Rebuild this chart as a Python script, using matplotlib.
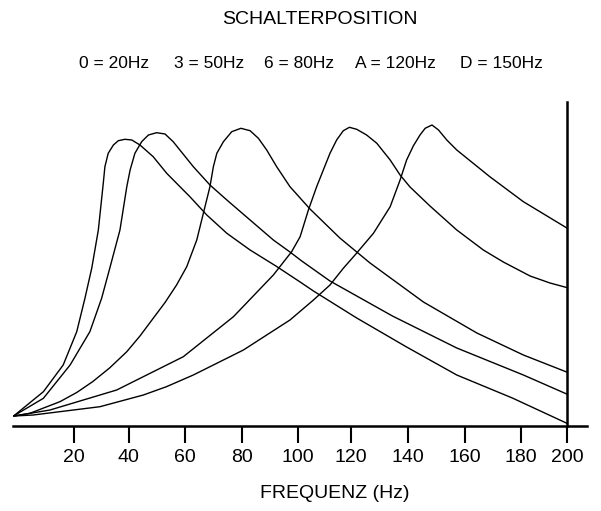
import numpy as np
import matplotlib
matplotlib.use("Agg")
import matplotlib.pyplot as plt

# Schalterpositionen und Eckfrequenzen
schalter = ["0", "3", "6", "A", "D"]
eckfrequenz = [20, 50, 80, 120, 150]

# Kurven (Frequenz in Hz, Pegel relativ, ohne Einheit)
kurve_0_f = [0, 9.8, 16.4, 21.0, 24.0, 26.5, 28.9, 30.7, 31.3, 32.5, 34.4, 36.2, 38.6, 41.1,
             44.0, 48.7, 53.5, 61.7, 67.6, 74.6, 82.8, 92.4, 100.9, 105.9, 122.0, 139.6,
             157.2, 176.9, 200]
kurve_0_p = [10, 34, 60.7, 94, 127.4, 157.7, 195.7, 242.4, 259, 272.4, 280.7, 285, 286.4, 285.7,
             280.7, 269, 252.4, 229, 210.7, 192.4, 175.7, 159.2, 143.7, 134.7, 107.7, 78.7,
             50.7, 27.7, 2.2]

kurve_3_f = [0, 9.8, 18.7, 25.8, 30.1, 33.1, 36.8, 39.3, 40.5, 42.2, 44.6, 47.0, 49.9, 52.9,
             55.8, 62.9, 68.7, 74.6, 82.8, 91.2, 97.2, 101.5, 112.1, 134.6, 157.2, 181.0, 200]
kurve_3_p = [10, 27.4, 60.7, 94, 127.4, 157.7, 195.7, 239, 255.7, 272.4, 284, 290.7, 293, 291.7,
             284, 259, 240.7, 225.7, 205.7, 185.7, 173.7, 164.7, 144.7, 109.7, 77.7, 50.7, 31.4]

kurve_6_f = [0, 5.3, 15.3, 21.0, 26.8, 33.0, 39.3, 44.0, 48.7, 52.9, 57.0, 60.6, 64.1, 66.4,
             68.7, 69.9, 71.1, 73.4, 76.3, 79.5, 82.8, 85.8, 88.8, 92.4, 97.2, 104.6, 115.8,
             126.7, 145.5, 164.3, 181.0, 200]
kurve_6_p = [9.7, 12.4, 24, 33.2, 44, 57.7, 74, 89.7, 107.4, 123.2, 140.7, 159, 185.7, 212.4,
             239, 259, 272.4, 284, 294, 297.4, 295, 287.4, 275.7, 259, 239, 216.7, 187.7,
             162.7, 123.7, 92.7, 70.7, 53.4]

kurve_a_f = [0, 12, 35.6, 59.4, 76.9, 91.2, 97.8, 100.9, 104.0, 107.1, 112.1, 114.6, 117.1,
             119.4, 122.0, 125.5, 129.1, 133.8, 137.3, 140.8, 147.8, 157.2, 166.6, 173.7,
             183.9, 192.5, 200]
kurve_a_p = [9.7, 15.7, 35.7, 69, 109, 150.7, 174, 189, 215.7, 239, 272.4, 285.7, 295,
             298.4, 296.4, 290.7, 282.4, 265.7, 250.7, 238.7, 219.7, 195.7, 175.7, 163.7,
             149.7, 142.7, 138]

kurve_d_f = [0, 6.4, 29.5, 45.2, 53.4, 62.9, 80.4, 97.2, 105.9, 112.1, 117.1, 121.4, 127.9,
             133.8, 137.3, 139.6, 142.0, 144.3, 146.1, 148.5, 150.8, 153.7, 157.2, 168.9, 181.0, 200]
kurve_d_p = [9.7, 10.7, 19, 30.7, 39, 50.7, 75.7, 105.7, 125.7, 140.7, 157.4, 170.7, 192.4,
             219, 245.7, 265.7, 280, 290.7, 297.4, 300.7, 295.7, 285.7, 275.7, 249, 224, 197.4]

x_ticks = [20, 40, 60, 80, 100, 120, 140, 160, 180, 200]

# die Frequenzachse im Original ist nicht ganz gleichmaessig geteilt
skala_hz = [-20, 0, 20, 40, 60, 80, 100, 120, 140, 160, 180, 200, 240]
skala_pos = [-46, 14, 74, 128.7, 185, 242.3, 297.7, 351, 407.7, 464.7, 521, 567.3, 660]


def vorwaerts(x):
    return np.interp(x, skala_hz, skala_pos)


def rueckwaerts(p):
    return np.interp(p, skala_pos, skala_hz)


def zeichnen():
    fig = plt.figure(figsize=(6.01, 5.11), dpi=100)
    ax = fig.add_axes([12.7 / 601, 85.3 / 511, 574.6 / 601, 324 / 511])

    kurven = [(kurve_0_f, kurve_0_p), (kurve_3_f, kurve_3_p), (kurve_6_f, kurve_6_p),
              (kurve_a_f, kurve_a_p), (kurve_d_f, kurve_d_p)]
    for f, p in kurven:
        ax.plot(f, p, color="black", linewidth=1.0, solid_joinstyle="round")

    ax.set_xscale("function", functions=(vorwaerts, rueckwaerts))
    ax.set_xlim(-0.43, 208.6)
    ax.set_ylim(0, 324)

    ax.spines["left"].set_visible(False)
    ax.spines["top"].set_visible(False)
    ax.spines["right"].set_position(("data", 200))
    ax.spines["right"].set_linewidth(1.8)
    ax.spines["bottom"].set_linewidth(1.8)

    ax.set_yticks([])
    ax.set_xticks(x_ticks)
    ax.set_xticklabels([str(t) for t in x_ticks])
    ax.minorticks_off()
    ax.tick_params(axis="x", direction="out", length=12, width=1.5, pad=5,
                   labelsize=14)
    for lab in ax.get_xticklabels():
        lab.set_family(["Liberation Sans", "DejaVu Sans"])

    fig.text(320 / 601, 1 - 19 / 511, "SCHALTERPOSITION", ha="center", va="center",
             fontsize=14, family=["Liberation Sans", "DejaVu Sans"])

    mitten = [114.5, 209, 299, 395.8, 501]
    for s, hz, xm in zip(schalter, eckfrequenz, mitten):
        fig.text(xm / 601, 1 - 64 / 511, f"{s} = {hz}Hz", ha="center", va="center",
                 fontsize=12.5, family=["Liberation Sans", "DejaVu Sans"])

    fig.text(335 / 601, 1 - 494 / 511, "FREQUENZ (Hz)", ha="center", va="center",
             fontsize=14, family=["Liberation Sans", "DejaVu Sans"])

    fig.savefig("out.png", dpi=100)


if __name__ == "__main__":
    zeichnen()
